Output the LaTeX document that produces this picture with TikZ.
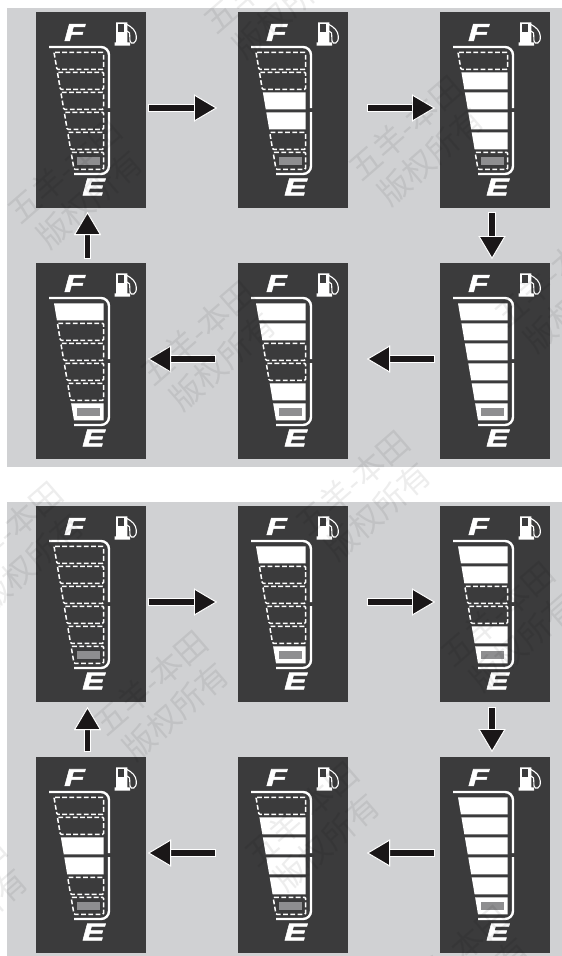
\documentclass[tikz,border=0pt]{standalone}
\usepackage{fontspec}
\usetikzlibrary{arrows.meta}
\newfontfamily\gaugefont[FakeStretch=1.4,FakeBold=2.2]{Liberation Sans}
\newfontfamily\cjk{Noto Sans CJK SC}
\definecolor{panelgray}{HTML}{D0D1D3}
\definecolor{gaugedark}{HTML}{3B3B3C}
\definecolor{lampgray}{HTML}{8E8E90}
\definecolor{arrowblack}{HTML}{1A1718}
\tikzset{
  panel/.style={rectangle, fill=gaugedark, minimum width=110pt, minimum height=196pt, inner sep=0pt, outer sep=0pt},
  letter/.style={text=white, inner sep=0pt, font=\gaugefont\bfseries\itshape\fontsize{24}{24}\selectfont},
  seg0/.style={draw=white, line width=1.5pt, dash pattern=on 4.8pt off 2.4pt, rounded corners=1pt},
  seg1/.style={fill=white},
  flow/.style 2 args={draw=arrowblack, line width=5.5pt, shorten <=#1, shorten >=#2,
    -{Triangle[length=23pt, width=27pt, color=white, fill=arrowblack, line width=0.9pt]},
    preaction={draw=white, line width=7.5pt, shorten <=#1-1.3pt, shorten >=#2}},
  stamp/.style={rotate=41, align=center, inner sep=0pt, text=black, text opacity=0.07,
    font=\cjk\fontsize{32}{38}\selectfont},
  gauge/.pic={
    \node[letter] (-F) at (38.5,20.5) {F};
    \node[letter] (-E) at (57.5,175) {E};
    \fill[white] (80,10.3) -- (91.3,10.3) -- (91.3,30.3) -- (94,30.3) -- (94,33.7) -- (78.7,33.7) -- (78.7,30.3) -- (80,30.3) -- cycle;
    \fill[gaugedark] (81.7,12) rectangle (88,20.3);
    \draw[white, line width=1.1pt] (91,12.5) .. controls (96,15) and (100,19) .. (100.3,24)
      .. controls (101,32) and (95,33) .. (94,29) -- (93.6,21) -- (91,19);
    \draw[white, line width=2.4pt, rounded corners=8pt] (13,35) -- (73,35) -- (73,96);
    \draw[white, line width=2.4pt, rounded corners=8pt] (73,100) -- (73,162) -- (38,162);
    \foreach \s [count=\n] in {#1} {
      \pgfmathsetmacro\ytop{40.3+20*(\n-1)}
      \pgfmathsetmacro\ybot{\ytop+17}
      \path[seg\s] ({18+0.171*(\ytop-40.3)},\ytop) -- (67.5,\ytop) -- (67.5,\ybot) -- ({18+0.171*(\ybot-40.3)},\ybot) -- cycle;
    }
    \fill[lampgray] (40.7,145) rectangle (64.3,152.7);
  }
}
\begin{document}
\begin{tikzpicture}[x=1pt, y=-1pt]
      \useasboundingbox (0,0) rectangle (562,956);
      \fill[panelgray] (7,8) rectangle (562,467);
      \fill[panelgray] (7,502) rectangle (562,956);

      \foreach \name/\px/\py/\lamps in {
        11/91/110/{0,0,0,0,0,0}, 12/293/110/{0,0,1,1,0,0}, 13/495/110/{0,1,1,1,1,0},
        21/91/361/{1,0,0,0,0,1}, 22/293/361/{1,1,0,0,1,1}, 23/495/361/{1,1,1,1,1,1},
        31/91/604/{0,0,0,0,0,0}, 32/293/604/{1,0,0,0,0,1}, 33/495/604/{1,1,0,0,1,1},
        41/91/855/{0,0,1,1,0,0}, 42/293/855/{0,1,1,1,1,0}, 43/495/855/{1,1,1,1,1,1}} {
        \node[panel] (p\name) at (\px,\py) {};
        \pic (g\name) at (p\name.north west) {gauge/.expanded=\lamps};
      }

      \draw[flow={3pt}{21pt}] ([yshift=2]p11.east) -- ([yshift=2]p12.west);
      \draw[flow={20pt}{5pt}] ([yshift=2]p12.east) -- ([yshift=2]p13.west);
      \draw[flow={5pt}{4pt}] ([xshift=-3]p13.south) -- ([xshift=-3]p23.north);
      \draw[flow={6pt}{19pt}] ([yshift=2]p23.west) -- ([yshift=2]p22.east);
      \draw[flow={23pt}{2pt}] ([yshift=2]p22.west) -- ([yshift=2]p21.east);
      \draw[flow={5pt}{4pt}] ([xshift=-3.5]p21.north) -- ([xshift=-3.5]p11.south);

      \draw[flow={3pt}{21pt}] ([yshift=2]p31.east) -- ([yshift=2]p32.west);
      \draw[flow={20pt}{5pt}] ([yshift=2]p32.east) -- ([yshift=2]p33.west);
      \draw[flow={6pt}{5pt}] ([xshift=-3]p33.south) -- ([xshift=-3]p43.north);
      \draw[flow={6pt}{19pt}] ([yshift=2]p43.west) -- ([yshift=2]p42.east);
      \draw[flow={23pt}{2pt}] ([yshift=2]p42.west) -- ([yshift=2]p41.east);
      \draw[flow={6pt}{5pt}] ([xshift=-3.5]p41.north) -- ([xshift=-3.5]p31.south);

      \foreach \wx/\wy [count=\i] in {418/142, 273/-5, 77/185, 210/347, 564/289, 365/497,
                                      18/548, 163/697, 510/628, 314/828, 464/972, -38/903} {
        \node[stamp] (wm\i) at (\wx,\wy) {五羊-本田\\版权所有};
      }
    \end{tikzpicture}
\end{document}
